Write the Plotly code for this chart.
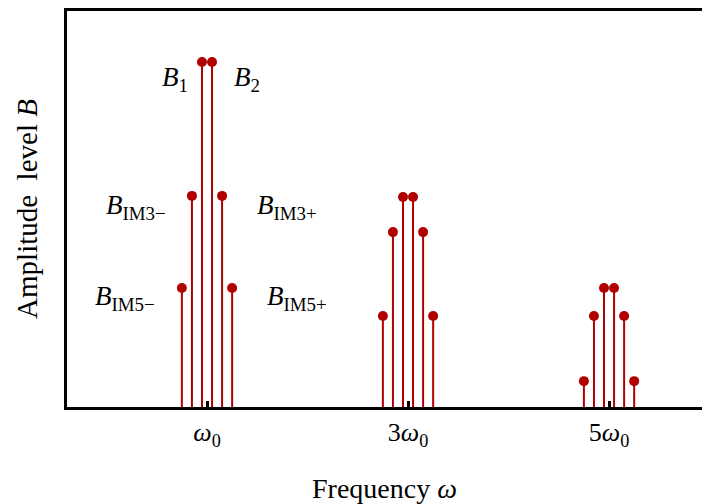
import plotly.graph_objects as go

# Data (frequency in units of omega0, amplitude relative to B1)
group_centers = [1, 3, 5]
offsets = [-0.25, -0.15, -0.05, 0.05, 0.15, 0.25]
amps_g1 = [0.345, 0.612, 1.0, 1.0, 0.612, 0.345]
amps_g3 = [0.264, 0.507, 0.609, 0.609, 0.507, 0.264]
amps_g5 = [0.075, 0.264, 0.345, 0.345, 0.264, 0.075]
amps = [amps_g1, amps_g3, amps_g5]
tick_vals = [1, 3, 5]
tick_text = ["<i>ω</i><sub>0</sub>", "3<i>ω</i><sub>0</sub>", "5<i>ω</i><sub>0</sub>"]

labels = ["<i>B</i><sub>1</sub>", "<i>B</i><sub>2</sub>",
          "<i>B</i><sub>IM3−</sub>", "<i>B</i><sub>IM3+</sub>",
          "<i>B</i><sub>IM5−</sub>", "<i>B</i><sub>IM5+</sub>"]
label_x = [0.681, 1.393, 0.289, 1.791, 0.189, 1.891]
label_y = [0.951, 0.951, 0.580, 0.580, 0.316, 0.316]

COLOR = "#B00000"
FONT = "Liberation Serif"

xs, ys = [], []
sx, sy = [], []
for c, a in zip(group_centers, amps):
    for o, v in zip(offsets, a):
        x = c + o
        xs.append(x)
        ys.append(v)
        sx += [x, x, None]
        sy += [0, v, None]

fig = go.Figure()
fig.add_trace(go.Scatter(x=sx, y=sy, mode="lines",
                         line=dict(color=COLOR, width=2), hoverinfo="skip"))
fig.add_trace(go.Scatter(x=xs, y=ys, mode="markers",
                         marker=dict(color=COLOR, size=10)))

for t, x, y in zip(labels, label_x, label_y):
    fig.add_annotation(x=x, y=y, text=t, showarrow=False,
                       font=dict(family=FONT, size=27, color="black"),
                       xanchor="center", yanchor="middle")

fig.update_layout(
    width=702, height=504,
    margin=dict(l=67, r=0, t=11, b=97),
    paper_bgcolor="white", plot_bgcolor="white",
    showlegend=False,
    font=dict(family=FONT, color="black"),
)
fig.update_xaxes(
    range=[-0.393, 5.925],
    tickvals=tick_vals, ticktext=tick_text,
    ticks="inside", ticklen=6, tickwidth=3, tickcolor="black",
    showline=True, linecolor="black", linewidth=3, mirror=True,
    showgrid=False, zeroline=False,
    tickfont=dict(family=FONT, size=26),
    title=dict(text="Frequency <i>ω</i>", font=dict(family=FONT, size=28), standoff=30),
)
fig.update_yaxes(
    range=[0, 1.148],
    showticklabels=False, ticks="",
    showline=True, linecolor="black", linewidth=3, mirror=False,
    showgrid=False, zeroline=False,
    title=dict(text="Amplitude  level <i>B</i>", font=dict(family=FONT, size=29), standoff=18),
)

fig.write_html("out.html")
